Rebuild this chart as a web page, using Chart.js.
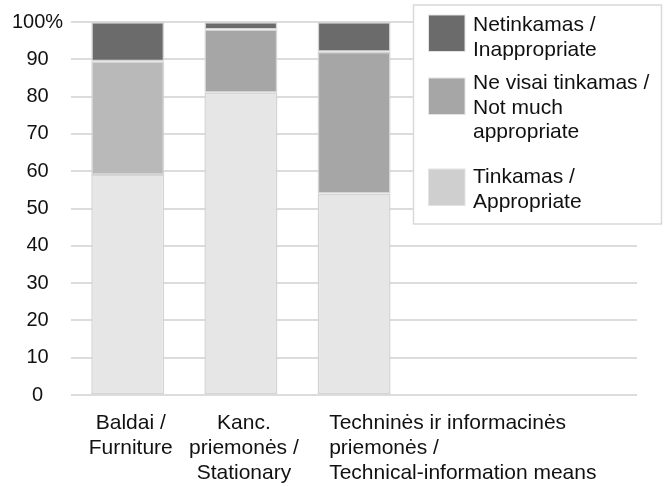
<!DOCTYPE html>
<html>
<head>
<meta charset="utf-8">
<script src="https://cdn.jsdelivr.net/npm/chart.js@4/dist/chart.umd.min.js"></script>
<style>
  html, body { margin: 0; padding: 0; background: #fff; }
  #wrap { width: 665px; height: 487px; position: relative; }
</style>
</head>
<body>
<div id="wrap"><canvas id="chart"></canvas></div>
<script>
// categories (two empty slots on the right, like the original sheet)
const categoryLines = [
    ['Baldai /', 'Furniture'],
    ['Kanc.', 'priemonės /', 'Stationary'],
    ['Techninės ir informacinės', 'priemonės /', 'Technical-information means']
];
const emptySlots = 2;

// series, % of answers
const tinkamas = [59, 81, 54];
const neVisai = [30.5, 17, 38];
const netinkamas = [10.5, 2, 8];

const seriesLines = [
    ['Tinkamas /', 'Appropriate'],
    ['Ne visai tinkamas /', 'Not much', 'appropriate'],
    ['Netinkamas /', 'Inappropriate']
];

const yTicks = [0, 10, 20, 30, 40, 50, 60, 70, 80, 90, 100];

const FONT = '"Liberation Sans", Arial, Helvetica, sans-serif';
const legendColors = ['#cfcfcf', '#a6a6a6', '#6b6b6b'];
// legend rows, top to bottom: first text baseline and swatch top
const legendBaselines = [31, 89, 183];
const legendSwatchTops = [15, 78, 169];

const labels = categoryLines.map(l => l.join(' '));
for (let i = 0; i < emptySlots; i++) labels.push('');

// LEGENDA (boxed, top right, over the plot)
const boxLegend = {
    id: 'boxLegend',
    afterDraw(chart) {
        const ctx = chart.ctx;
        ctx.save();
        ctx.fillStyle = '#fff';
        ctx.strokeStyle = '#d9d9d9';
        ctx.lineWidth = 1.5;
        ctx.fillRect(413.5, 5, 248, 219);
        ctx.strokeRect(413.5, 5, 248, 219);
        ctx.font = '21px ' + FONT;
        ctx.textAlign = 'left';
        ctx.textBaseline = 'alphabetic';
        const n = chart.data.datasets.length;
        for (let row = 0; row < n; row++) {
            const i = n - 1 - row;
            const lines = seriesLines[i];
            const sy = legendSwatchTops[row];
            ctx.fillStyle = legendColors[i];
            ctx.fillRect(428.5, sy, 36.5, 36.5);
            ctx.strokeStyle = '#e3e3e3';
            ctx.lineWidth = 1;
            ctx.strokeRect(428.5, sy, 36.5, 36.5);
            ctx.fillStyle = '#111';
            lines.forEach((ln, k) => ctx.fillText(ln, 473, legendBaselines[row] + k * 24.5));
        }
        ctx.restore();
    }
};

// X LABELS (long one overflows to the right, left aligned)
const catLabels = {
    id: 'catLabels',
    afterDraw(chart) {
        const xs = chart.scales.x;
        const ctx = chart.ctx;
        const step = xs.getPixelForValue(1) - xs.getPixelForValue(0);
        const top = chart.chartArea.bottom + 34;
        ctx.save();
        ctx.font = '21px ' + FONT;
        ctx.fillStyle = '#111';
        ctx.textBaseline = 'alphabetic';
        categoryLines.forEach((lines, i) => {
            const c = xs.getPixelForValue(i);
            const widest = Math.max(...lines.map(l => ctx.measureText(l).width));
            let x = c + 3;
            ctx.textAlign = 'center';
            if (widest > step) { ctx.textAlign = 'left'; x = c - 0.22 * step; }
            lines.forEach((l, k) => ctx.fillText(l, x, top + k * 25));
        });
        ctx.restore();
    }
};

const ctx = document.getElementById('chart').getContext('2d');
const chart = new Chart(ctx, {
    type: 'bar',
    data: {
        labels: labels,
        datasets: [
            { label: seriesLines[0].join(' '), data: tinkamas, backgroundColor: '#e6e6e6' },
            { label: seriesLines[1].join(' '), data: neVisai, backgroundColor: ['#b9b9b9', '#a6a6a6', '#a6a6a6'] },
            { label: seriesLines[2].join(' '), data: netinkamas, backgroundColor: '#6b6b6b' }
        ].map(d => Object.assign(d, {
            borderColor: '#d4d4d4',
            borderWidth: 1.5,
            borderSkipped: false,
            categoryPercentage: 1,
            barPercentage: 0.645
        }))
    },
    options: {
        responsive: true,
        maintainAspectRatio: false,
        animation: false,
        layout: { padding: { left: 4, right: 28, top: 22, bottom: 92 } },
        plugins: { legend: { display: false }, tooltip: { enabled: false } },
        scales: {
            x: {
                stacked: true,
                display: false
            },
            y: {
                stacked: true,
                min: 0,
                max: 100,
                afterBuildTicks: (s) => { s.ticks = yTicks.map(v => ({ value: v })); },
                border: { display: false },
                grid: { color: '#dcdcdc', lineWidth: 2, drawTicks: false },
                ticks: {
                    color: '#111',
                    crossAlign: 'center',
                    padding: 8,
                    font: { family: FONT, size: 20 },
                    callback: (v) => v === 100 ? '100%' : v
                }
            }
        }
    },
    plugins: [catLabels, boxLegend]
});
</script>
</body>
</html>
